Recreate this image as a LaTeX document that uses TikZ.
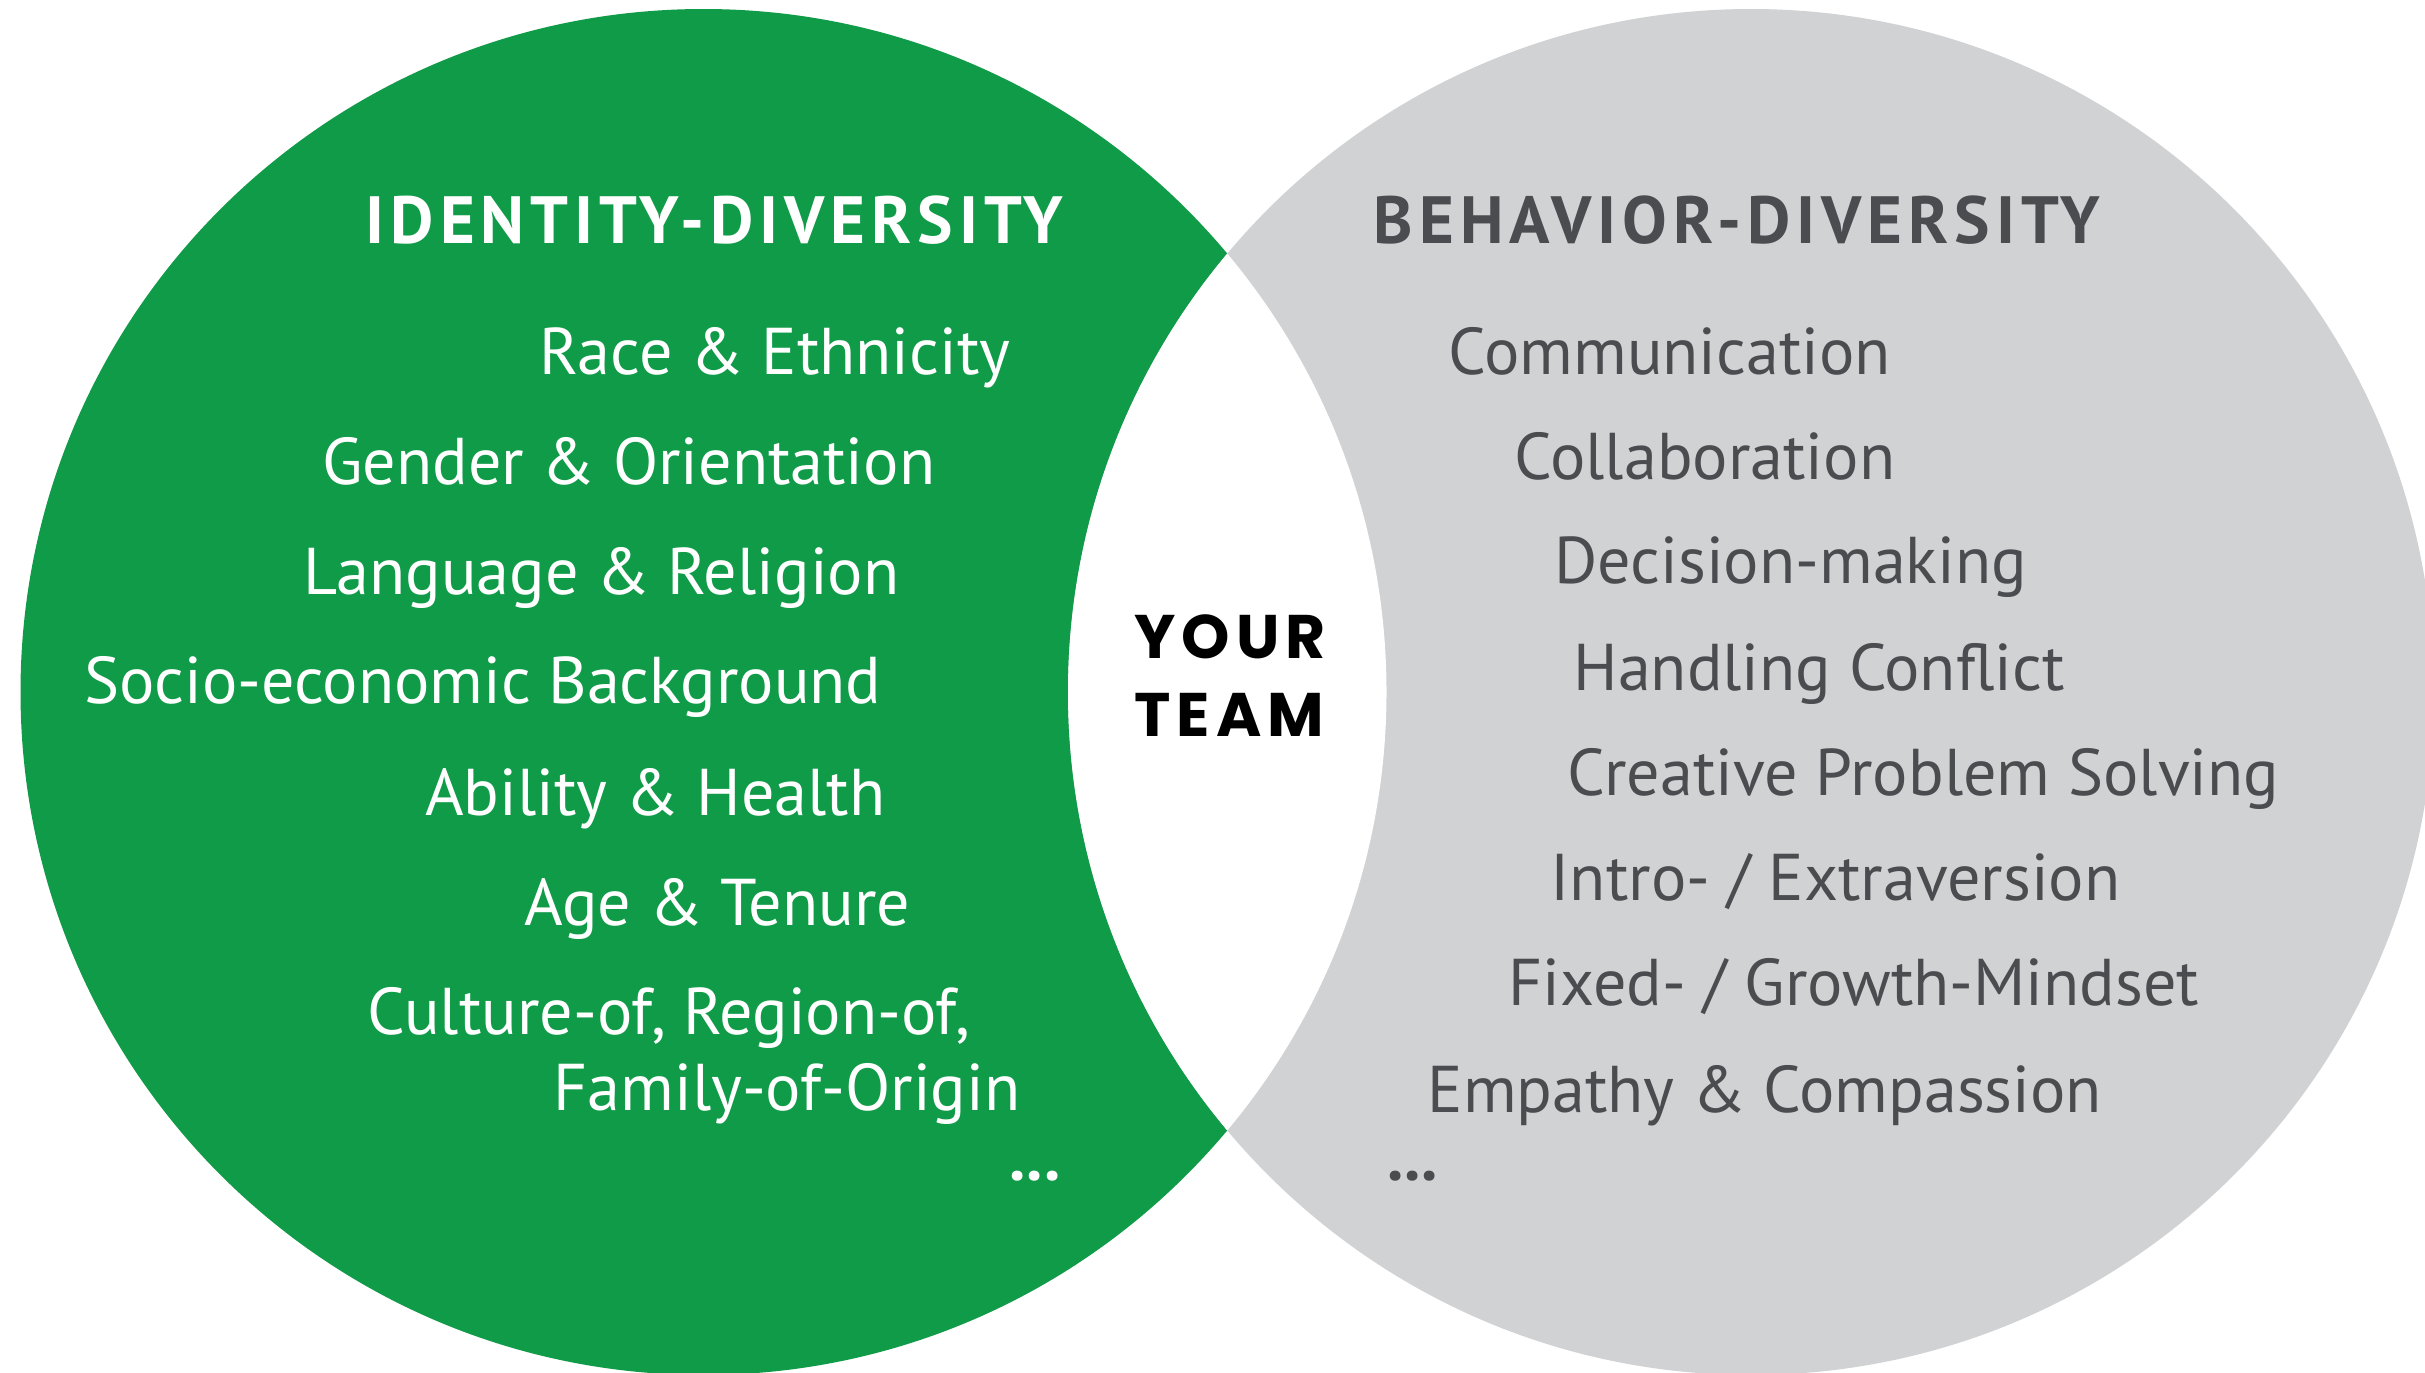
\documentclass[tikz,border=0pt]{standalone}
\usepackage{fontspec}
\setmainfont{PT Sans}
\newfontfamily\titlefont[LetterSpace=9]{PT Sans}
\newfontfamily\teamfont[LetterSpace=10]{Poppins}
\usepackage{xcolor}
\definecolor{mgreen}{HTML}{109B48}
\definecolor{mgrey}{HTML}{D0D2D4}
\definecolor{mdark}{HTML}{4A4C50}
\usetikzlibrary{positioning}
\tikzstyle{item}=[inner sep=0pt, font=\fontsize{18.8}{23}\selectfont]
\tikzstyle{iditem}=[item, anchor=mid east, text=white]
\tikzstyle{bhitem}=[item, anchor=mid west, text=mdark]
\tikzstyle{headline}=[inner sep=0pt, anchor=mid west, font=\titlefont\bfseries\fontsize{19}{23}\selectfont]
\tikzstyle{team}=[inner sep=0pt, text=black, font=\teamfont\bfseries\fontsize{17.5}{21}\selectfont]

\begin{document}
\begin{tikzpicture}[x=0.01cm,y=-0.01cm]
    \useasboundingbox (0,0) rectangle (2425,1372);
    \fill[white] (0,0) rectangle (2425,1372);
    \fill[mgreen] (703.5,692) circle (683);
    \fill[mgrey] (1751,692) circle (683);
    \begin{scope}
        \clip (703.5,692) circle (683);
        \fill[white] (1751,692) circle (683);
    \end{scope}

    \node[headline, text=white] (idt) at (365,235) {IDENTITY-DIVERSITY};
    \node[headline, text=mdark] (bht) at (1373,235) {BEHAVIOR-DIVERSITY};

    \node[iditem] (race)    at (1011, 366) {Race \& Ethnicity};
    \node[iditem] (gender)  at (936, 476)  {Gender \& Orientation};
    \node[iditem] (lang)    at (900, 586)  {Language \& Religion};
    \node[iditem] (socio)   at (882, 695)  {Socio-economic Background};
    \node[iditem] (ability) at (886, 807)  {Ability \& Health};
    \node[iditem] (age)     at (911, 917)  {Age \& Tenure};
    \node[iditem] (culture) at (971, 1026) {Culture-of, Region-of,};
    \node[iditem] (family)  at (1021, 1102) {Family-of-Origin};
    \node[iditem] (iddots)  at (1061, 1172) {\textbf{...}};

    \node[bhitem] (comm)    at (1448, 366) {Communication};
    \node[bhitem] (collab)  at (1514, 471) {Collaboration};
    \node[bhitem] (decide)  at (1554, 575) {Decision-making};
    \node[bhitem] (conflict) at (1573, 682) {Handling Conflict};
    \node[bhitem] (creative) at (1567, 787) {Creative Problem Solving};
    \node[bhitem] (intro)   at (1550, 892) {Intro- / Extraversion};
    \node[bhitem] (mindset) at (1508, 997) {Fixed- / Growth-Mindset};
    \node[bhitem] (empathy) at (1427, 1104) {Empathy \& Compassion};
    \node[bhitem] (bhdots)  at (1387, 1172) {\textbf{...}};

    \node[team] (your) at (1230, 637) {YOUR};
    \node[team, anchor=west] (teamw) at (your.west |- 0,715) {TEAM};
\end{tikzpicture}
\end{document}
